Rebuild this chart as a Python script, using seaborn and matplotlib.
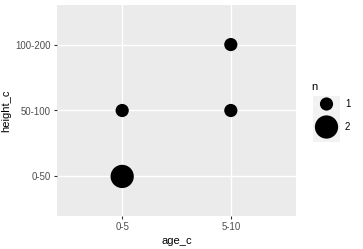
import matplotlib
matplotlib.use("Agg")
import matplotlib.pyplot as plt
import seaborn as sns
import pandas as pd

age_c = ["0-5", "0-5", "5-10", "5-10"]
height_c = ["0-50", "50-100", "50-100", "100-200"]
n = [2, 1, 1, 1]
x_order = ["0-5", "5-10"]
y_order = ["0-50", "50-100", "100-200"]
legend_levels = [1, 2]

df = pd.DataFrame({"age_c": age_c, "height_c": height_c, "n": n})
df["xi"] = df["age_c"].map({c: i for i, c in enumerate(x_order)})
df["yi"] = df["height_c"].map({c: i for i, c in enumerate(y_order)})

sns.set_style("white")
plt.rcParams["font.family"] = ["Liberation Sans", "DejaVu Sans"]

W, H = 363, 249
fig = plt.figure(figsize=(W / 100, H / 100), dpi=100)
ax = fig.add_axes([57 / W, 1 - 216 / H, (296 - 57) / W, (216 - 5) / H])
ax.set_facecolor("#EBEBEB")
for s in ax.spines.values():
    s.set_visible(False)

sizes = (90, 280)
sns.scatterplot(data=df, x="xi", y="yi", size="n", sizes=sizes, color="black",
                edgecolor="none", legend=False, ax=ax, zorder=3)

ax.set_xlim(-0.6, len(x_order) - 1 + 0.6)
ax.set_ylim(-0.6, len(y_order) - 1 + 0.6)
ax.set_xticks(range(len(x_order)))
ax.set_xticklabels(x_order)
ax.set_yticks(range(len(y_order)))
ax.set_yticklabels(y_order)
ax.grid(True, color="white", linewidth=1.0)
ax.set_axisbelow(True)
ax.tick_params(axis="both", colors="#333333", labelcolor="#4D4D4D", labelsize=6.9,
               length=2.5, width=0.8, pad=2, direction="out", bottom=True, left=True)
ax.set_xlabel("age_c", fontsize=8, color="black", labelpad=3)
ax.set_ylabel("height_c", fontsize=8, color="black", labelpad=3)

# legend
fig.text(311 / W, 1 - 87 / H, "n", fontsize=8, ha="left", va="center", color="black")
lax = fig.add_axes([313 / W, 1 - 142 / H, 27 / W, 46 / H])
lax.set_facecolor("#F2F2F2")
for s in lax.spines.values():
    s.set_visible(False)
ldf = pd.DataFrame({"x": [0.5, 0.5], "y": [0.826, 0.326], "n": legend_levels})
sns.scatterplot(data=ldf, x="x", y="y", size="n", sizes=sizes, color="black",
                edgecolor="none", legend=False, ax=lax)
lax.set_xlim(0, 1)
lax.set_ylim(0, 1)
lax.set_xticks([])
lax.set_yticks([])
lax.set_xlabel("")
lax.set_ylabel("")
for lvl, yy in zip(legend_levels, [104, 127]):
    fig.text(345 / W, 1 - yy / H, str(lvl), fontsize=6.9, ha="left", va="center", color="black")

fig.savefig("out.png", dpi=100, facecolor="white")
